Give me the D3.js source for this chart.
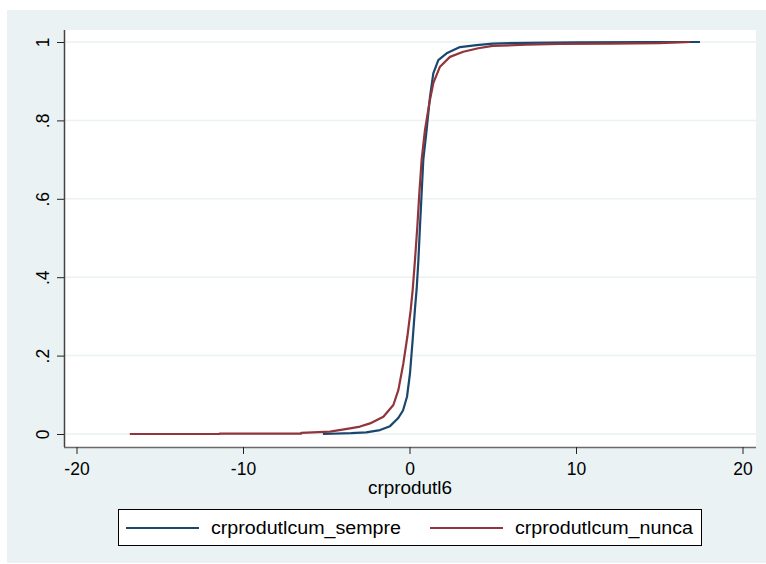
<!DOCTYPE html>
<html>
<head>
<meta charset="utf-8">
<script src="https://cdn.jsdelivr.net/npm/d3@7"></script>
<style>
  body { margin: 0; background: #fff; }
  text { font-family: "Liberation Sans", Arial, sans-serif; fill: #000; }
</style>
</head>
<body>
<div id="plot"></div>
<script>
// cumulative distribution
const sempreX = [-5.2, -3.5, -2.6, -1.77, -1.17, -0.69, -0.39, -0.15, 0.03, 0.19, 0.33, 0.43, 0.53, 0.63, 0.73, 0.83, 1.03, 1.23, 1.43, 1.73, 2.23, 3.03, 4.03, 5.0, 7.0, 10.0, 14.0, 17.45];
const sempreY = [0, 0.002, 0.004, 0.01, 0.02, 0.04, 0.06, 0.095, 0.155, 0.24, 0.32, 0.37, 0.44, 0.53, 0.615, 0.70, 0.776, 0.86, 0.92, 0.954, 0.971, 0.987, 0.992, 0.996, 0.998, 0.999, 0.9995, 1];

const nuncaX = [-16.8, -11.4, -11.4, -6.5, -6.5, -4.77, -3.57, -2.97, -2.37, -1.57, -0.97, -0.67, -0.37, -0.13, 0.07, 0.19, 0.33, 0.47, 0.59, 0.73, 0.93, 1.19, 1.43, 1.83, 2.43, 3.23, 4.13, 5.0, 7.0, 9.0, 12.0, 15.0, 16.85];
const nuncaY = [0, 0, 0.001, 0.001, 0.003, 0.006, 0.0145, 0.019, 0.027, 0.044, 0.074, 0.112, 0.18, 0.248, 0.316, 0.367, 0.444, 0.529, 0.614, 0.70, 0.776, 0.844, 0.895, 0.937, 0.962, 0.975, 0.984, 0.99, 0.993, 0.995, 0.996, 0.997, 1];

const xTicks = [-20, -10, 0, 10, 20];
const xTickLabels = ["-20", "-10", "0", "10", "20"];
const yTicks = [0, 0.2, 0.4, 0.6, 0.8, 1];
const yTickLabels = ["0", ".2", ".4", ".6", ".8", "1"];

const seriesNames = ["crprodutlcum_sempre", "crprodutlcum_nunca"];
const seriesColors = ["#1a476f", "#90353b"];

const width = 766, height = 564;
const plotLeft = 64, plotRight = 756, plotTop = 30, plotBottom = 447;
const fontSize = 17.5;

const svg = d3.select("#plot").append("svg")
  .attr("width", width)
  .attr("height", height);

// outer graph region
svg.append("rect")
  .attr("x", 7).attr("y", 10)
  .attr("width", 759).attr("height", 553)
  .attr("fill", "#eaf2f3");

svg.append("rect")
  .attr("x", plotLeft).attr("y", plotTop)
  .attr("width", plotRight - plotLeft).attr("height", plotBottom - plotTop)
  .attr("fill", "#fff");

const x = d3.scaleLinear().domain([-20, 20]).range([76.5, 742.5]);
const y = d3.scaleLinear().domain([0, 1]).range([434, 42]);

// gridlines
svg.append("g")
  .selectAll("line")
  .data(yTicks)
  .enter().append("line")
  .attr("x1", plotLeft).attr("x2", plotRight)
  .attr("y1", d => y(d)).attr("y2", d => y(d))
  .attr("stroke", "#eaf2f3")
  .attr("stroke-width", 1.5);

// lines
const line = d3.line()
  .x(d => x(d[0]))
  .y(d => y(d[1]));

const series = [
  d3.zip(sempreX, sempreY),
  d3.zip(nuncaX, nuncaY)
];

svg.append("g")
  .selectAll("path")
  .data(series)
  .enter().append("path")
  .attr("d", line)
  .attr("fill", "none")
  .attr("stroke", (d, i) => seriesColors[i])
  .attr("stroke-width", 2.2)
  .attr("stroke-linejoin", "round");

// x axis
const xAxis = svg.append("g")
  .attr("transform", `translate(0,${plotBottom})`)
  .call(d3.axisBottom(x).tickValues(xTicks).tickSize(7).tickPadding(9).tickSizeOuter(0)
    .tickFormat((d, i) => xTickLabels[i]));
xAxis.select(".domain").attr("d", `M${plotLeft},0.5H${plotRight}`).attr("stroke", "#6a6a6a").attr("stroke-width", 1.5);
xAxis.selectAll(".tick line").attr("stroke", "#222");
xAxis.selectAll(".tick text")
  .attr("font-size", fontSize)
  .attr("font-family", "Liberation Sans, Arial, sans-serif")
  .attr("dy", "0.71em");

// y axis
const yAxis = svg.append("g")
  .attr("transform", `translate(${plotLeft},0)`)
  .call(d3.axisLeft(y).tickValues(yTicks).tickSize(7).tickSizeOuter(0).tickFormat((d, i) => yTickLabels[i]));
yAxis.select(".domain").attr("d", `M0.5,${plotTop}V${plotBottom}`).attr("stroke", "#444").attr("stroke-width", 1.5);
yAxis.selectAll(".tick line").attr("stroke", "#222");
yAxis.selectAll(".tick text")
  .attr("font-size", fontSize)
  .attr("font-family", "Liberation Sans, Arial, sans-serif")
  .attr("text-anchor", "middle")
  .attr("x", 0).attr("dy", 0)
  .attr("transform", "translate(-15,0) rotate(-90)");

// axis title
svg.append("text")
  .attr("x", 410).attr("y", 494)
  .attr("text-anchor", "middle")
  .attr("font-size", fontSize)
  .attr("textLength", 84)
  .attr("lengthAdjust", "spacingAndGlyphs")
  .text("crprodutl6");

// legend
const legend = svg.append("g");
legend.append("rect")
  .attr("x", 118.5).attr("y", 509.5)
  .attr("width", 583).attr("height", 36)
  .attr("fill", "#fff")
  .attr("stroke", "#000")
  .attr("stroke-width", 1);

const legendX = [126, 430];
const legendTextWidth = [190, 178];
seriesNames.forEach((name, i) => {
  legend.append("line")
    .attr("x1", legendX[i]).attr("x2", legendX[i] + 73)
    .attr("y1", 528).attr("y2", 528)
    .attr("stroke", seriesColors[i])
    .attr("stroke-width", 2.2);
  legend.append("text")
    .attr("x", legendX[i] + 85).attr("y", 534)
    .attr("font-size", fontSize)
    .attr("textLength", legendTextWidth[i])
    .attr("lengthAdjust", "spacingAndGlyphs")
    .text(name);
});
</script>
</body>
</html>
